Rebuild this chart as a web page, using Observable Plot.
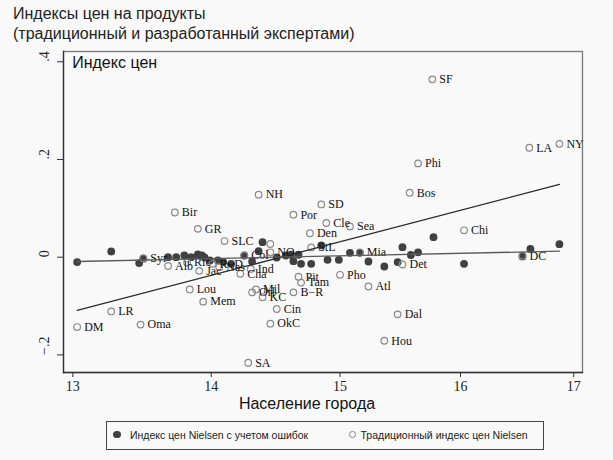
<!DOCTYPE html>
<html><head><meta charset="utf-8">
<script src="https://cdn.jsdelivr.net/npm/d3@7"></script>
<script src="https://cdn.jsdelivr.net/npm/@observablehq/plot@0.6"></script>
<style>
html,body{margin:0;padding:0;background:#f9f9f9;}
#wrap{position:relative;width:613px;height:460px;overflow:hidden;font-family:"Liberation Sans",Arial,sans-serif;background:#f9f9f9;}
#title{position:absolute;left:13px;top:4px;font-size:16px;line-height:20px;color:#222;white-space:nowrap;}
#chart{position:absolute;left:0;top:46px;}
#legend{position:absolute;left:106px;top:421px;width:436px;height:27px;border:1px solid #444;font-size:10.5px;color:#222;}
#legend .it{position:absolute;top:0;height:27px;line-height:27px;white-space:nowrap;}
#legend .mk{position:absolute;border-radius:50%;box-sizing:border-box;}
</style>
</head><body>
<div id="wrap">
  <div id="title"></div>
  <div id="chart"></div>
  <div id="legend"></div>
</div>
<script>
// ---- data ----
const titleLines = ["Индексы цен на продукты", "(традиционный и разработанный экспертами)"];
const yTitle = "Индекс цен";
const xTitle = "Население города";
const legendLabels = ["Индекс цен Nielsen с учетом ошибок", "Традиционный индекс цен Nielsen"];

const xTicks = [13, 14, 15, 16, 17];
const yTicks = [-0.2, 0, 0.2, 0.4];
const yTickLabels = ["−.2", "0", ".2", ".4"];

// traditional Nielsen index (hollow, labelled)
const tradCity = ["SF","NY","LA","Phi","Bos","Chi","DC","Det","Mia","Sea","Cle","SD","Por","Den","StL","NO","","NH","Bir","GR","SLC","Syr","Alb","Ric","Jac","R−D","Nas","Cha","Ind","Col","Lou","Mem","LR","DM","Oma","SA","Mil","Orl","KC","Cin","OkC","Pit","Tam","B−R","Pho","Atl","Dal","Hou"];
const tradPop = [15.76,16.87,16.60,15.64,15.57,16.03,16.54,15.51,15.16,15.08,14.89,14.85,14.63,14.76,14.77,14.45,14.45,14.36,13.73,13.90,14.10,13.50,13.68,13.82,13.91,14.01,14.06,14.22,14.30,14.25,13.84,13.94,13.27,13.03,13.48,14.28,14.34,14.31,14.39,14.50,14.45,14.67,14.69,14.63,15.00,15.23,15.47,15.36];
const tradIndex = [0.364,0.232,0.224,0.192,0.132,0.055,0.003,-0.015,0.010,0.063,0.070,0.108,0.087,0.049,0.020,0.010,0.027,0.128,0.0915,0.058,0.033,-0.002,-0.018,-0.011,-0.028,-0.0135,-0.0205,-0.034,-0.024,0.0035,-0.066,-0.091,-0.111,-0.143,-0.138,-0.216,-0.066,-0.072,-0.082,-0.106,-0.136,-0.040,-0.052,-0.072,-0.036,-0.060,-0.117,-0.171];

// error-corrected Nielsen index (filled)
const errPop = [13.03,13.27,13.47,13.50,13.68,13.74,13.80,13.85,13.90,13.93,13.95,13.99,14.05,14.09,14.15,14.25,14.31,14.36,14.39,14.50,14.57,14.61,14.63,14.67,14.69,14.77,14.85,14.90,14.99,15.08,15.16,15.23,15.36,15.47,15.51,15.58,15.64,15.77,16.03,16.54,16.61,16.87];
const errIndex = [-0.010,0.0117,-0.012,-0.003,0.000,0.000,0.0035,0.000,0.0055,0.0035,-0.0006,-0.0068,-0.0068,-0.010,-0.0135,0.0035,-0.0088,0.0123,0.0307,-0.0006,0.0035,0.005,-0.0082,0.005,-0.0135,-0.0135,0.024,-0.0053,-0.0053,0.009,0.009,-0.0088,-0.019,-0.010,0.0205,0.0045,0.010,0.041,-0.0135,0.0015,0.017,0.0266];

// linear fits (endpoints)
const fitPop = [13.03, 16.87];
const fitTrad = [-0.109, 0.149];
const fitErr = [-0.0088, 0.0123];

// ---- build ----
const trad = tradCity.map((c, i) => ({city: c, pop: tradPop[i], idx: tradIndex[i]}));
const err = errPop.map((p, i) => ({pop: p, idx: errIndex[i]}));
const fitT = fitPop.map((p, i) => ({pop: p, idx: fitTrad[i]}));
const fitE = fitPop.map((p, i) => ({pop: p, idx: fitErr[i]}));

const sans = '"Liberation Sans", Arial, sans-serif';
const serif = '"Liberation Serif", "Times New Roman", serif';
const dark = "#404040";

document.getElementById("title").innerHTML = titleLines.join("<br>");

const chart = Plot.plot({
  width: 613,
  height: 370,
  marginTop: 5,
  marginBottom: 44,
  marginLeft: 63,
  marginRight: 31,
  style: {background: "transparent", fontFamily: serif, color: "#222", overflow: "visible"},
  x: {type: "log", domain: [12.935, 17.08]},
  y: {domain: [-0.236, 0.421]},
  marks: [
    Plot.frame({stroke: "#777", strokeWidth: 1.3}),
    Plot.frame({anchor: "left", stroke: "#333", strokeWidth: 1.3}),
    Plot.frame({anchor: "bottom", stroke: "#333", strokeWidth: 1.3}),
    Plot.axisX({ticks: xTicks, tickSize: 5, tickPadding: 4, tickFormat: d => String(d), fontSize: 14, fontFamily: serif, label: null, stroke: "#333"}),
    Plot.axisY({ticks: yTicks, tickSize: 6, tickFormat: () => "", label: null, stroke: "#333"}),
    Plot.text(yTicks, {y: d => d, text: (d, i) => yTickLabels[i], frameAnchor: "left", rotate: -90, dx: -19, fontSize: 14, fontFamily: serif, fill: "#222"}),
    Plot.dot(err, {x: "pop", y: "idx", r: 3.9, fill: dark, stroke: "none"}),
    Plot.dot(trad, {x: "pop", y: "idx", r: 3.3, fill: "none", stroke: "#8a8a8a", strokeWidth: 1.2}),
    Plot.text(trad, {x: "pop", y: "idx", text: "city", dx: 7, textAnchor: "start", fontSize: 12, fontFamily: serif, fill: "#111"}),
    Plot.line(fitT, {x: "pop", y: "idx", stroke: "#2a2a2a", strokeWidth: 1.3}),
    Plot.line(fitE, {x: "pop", y: "idx", stroke: "#5a5a5a", strokeWidth: 1.3}),
    Plot.text([yTitle], {frameAnchor: "top-left", dx: 8.7, dy: 4.9, lineAnchor: "top", textAnchor: "start", fontSize: 16, fontFamily: sans, fill: "#111"}),
    Plot.text([xTitle], {frameAnchor: "bottom", dx: -16, dy: 25.6, lineAnchor: "top", textAnchor: "middle", fontSize: 16, fontFamily: sans, fill: "#111"})
  ]
});
document.getElementById("chart").appendChild(chart);

// legend
const lg = document.getElementById("legend");
const items = [
  {x: 10, tx: 23, filled: true, d: 7.5},
  {x: 245.5, tx: 253.5, filled: false, d: 6.5}
];
items.forEach((it, i) => {
  const mk = document.createElement("span");
  mk.className = "mk";
  mk.style.left = (it.x - it.d / 2) + "px";
  mk.style.top = (13.5 - it.d / 2 - 1) + "px";
  mk.style.width = it.d + "px";
  mk.style.height = it.d + "px";
  if (it.filled) { mk.style.background = dark; }
  else { mk.style.border = "1px solid #8a8a8a"; }
  lg.appendChild(mk);
  const t = document.createElement("span");
  t.className = "it";
  t.style.left = it.tx + "px";
  t.textContent = legendLabels[i];
  lg.appendChild(t);
});
</script>
</body></html>
